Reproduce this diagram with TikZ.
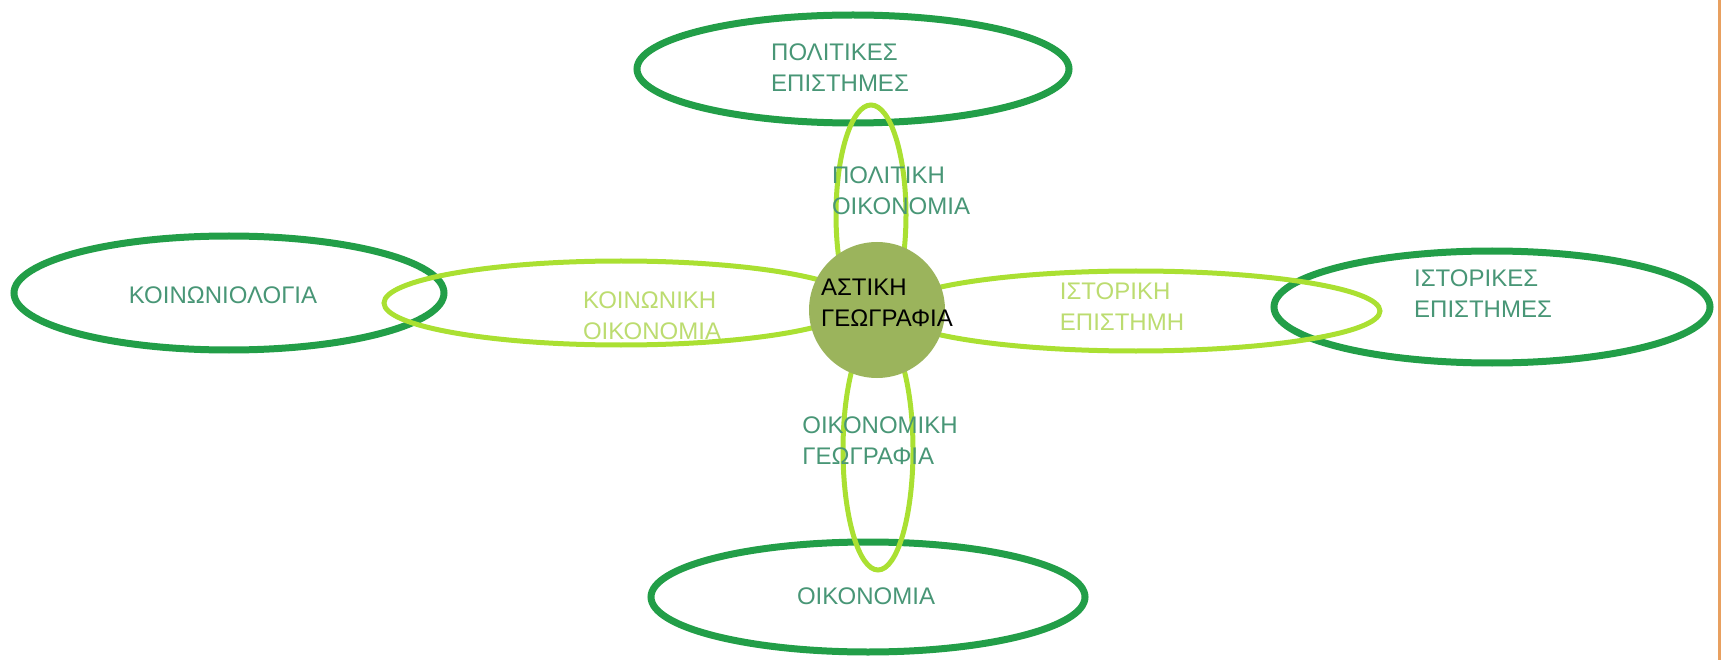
\documentclass[tikz,border=0pt]{standalone}
\usepackage{fontspec}
\setmainfont{Liberation Sans}
\usetikzlibrary{shapes.geometric}
\definecolor{darkring}{RGB}{34,158,72}
\definecolor{lightring}{RGB}{170,224,50}
\definecolor{hubfill}{RGB}{155,180,92}
\definecolor{tealtext}{RGB}{72,150,118}
\definecolor{limetext}{RGB}{188,220,112}
\definecolor{edgeline}{RGB}{232,160,96}
\begin{document}
\begin{tikzpicture}[x=1pt, y=-1pt,
		outer/.style = {draw=darkring, line width=7pt, ellipse, inner sep=0pt},
		inner/.style = {draw=lightring, line width=5pt, ellipse, inner sep=0pt},
		hub/.style = {circle, fill=hubfill, inner sep=0pt, minimum size=136pt},
		lbl/.style = {align=left, inner sep=0pt, font=\fontsize{24}{31}\selectfont}]
		\useasboundingbox (0,0) rectangle (1721,660);
		\fill[edgeline] (1718,0) rectangle (1721,660);
		% outer fields
		\node[outer, minimum width=432pt, minimum height=108pt] (pol) at (853,69) {};
		\node[outer, minimum width=430pt, minimum height=114pt] (soc) at (229,293) {};
		\node[outer, minimum width=436pt, minimum height=112pt] (his) at (1492,307) {};
		\node[outer, minimum width=434pt, minimum height=110pt] (eco) at (868,597) {};
		% links
		\node[inner, minimum width=70pt, minimum height=220pt] (polec) at (871,215) {};
		\node[inner, minimum width=474pt, minimum height=84pt] (socec) at (621,303) {};
		\node[inner, minimum width=488pt, minimum height=80pt] (hisep) at (1136,311) {};
		\node[inner, minimum width=70pt, minimum height=240pt] (ecgeo) at (878,450) {};
		\node[hub] (urb) at (877,310) {};
		% texts
		\node[lbl, text=tealtext] (tpol) at (840,68) {ΠΟΛΙΤΙΚΕΣ\\ΕΠΙΣΤΗΜΕΣ};
		\node[lbl, text=tealtext] (tsoc) at (223,295) {ΚΟΙΝΩΝΙΟΛΟΓΙΑ};
		\node[lbl, text=tealtext] (this) at (1483,294) {ΙΣΤΟΡΙΚΕΣ\\ΕΠΙΣΤΗΜΕΣ};
		\node[lbl, text=tealtext] (teco) at (866,596) {ΟΙΚΟΝΟΜΙΑ};
		\node[lbl, text=tealtext] (tpolec) at (901,191) {ΠΟΛΙΤΙΚΗ\\ΟΙΚΟΝΟΜΙΑ};
		\node[lbl, text=limetext] (tsocec) at (652,316) {ΚΟΙΝΩΝΙΚΗ\\ΟΙΚΟΝΟΜΙΑ};
		\node[lbl, text=limetext] (thisep) at (1122,307) {ΙΣΤΟΡΙΚΗ\\ΕΠΙΣΤΗΜΗ};
		\node[lbl, text=tealtext] (tecgeo) at (880,441) {ΟΙΚΟΝΟΜΙΚΗ\\ΓΕΩΓΡΑΦΙΑ};
		\node[lbl, text=black] (turb) at (887,303) {ΑΣΤΙΚΗ\\ΓΕΩΓΡΑΦΙΑ};
	\end{tikzpicture}
\end{document}
